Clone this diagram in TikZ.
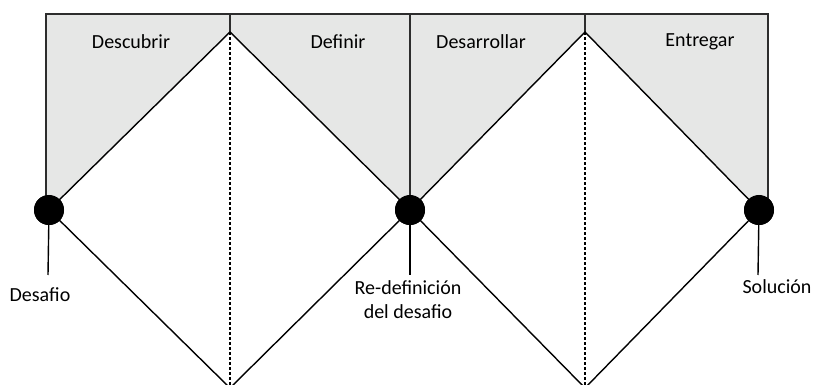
\documentclass[tikz,border=0pt]{standalone}
\usepackage{fontspec}
\setmainfont{Carlito}
\usepackage{xcolor}
\usepackage{tikz}
\usetikzlibrary{positioning}
\definecolor{phasebg}{RGB}{230,231,230}
\definecolor{framecol}{RGB}{45,45,45}

\begin{document}
\begin{tikzpicture}[x=1pt, y=1pt,
    dot/.style={circle, fill=black, inner sep=0pt, minimum size=30pt},
    phase/.style={font=\fontsize{20}{24}\selectfont},
    label/.style={align=center, font=\fontsize{20}{24}\selectfont},
    frame/.style={draw=framecol, line width=2pt},
    edge/.style={draw=black, line width=1.4pt},
    midline/.style={draw=black, line width=1.4pt, dash pattern=on 3pt off 2pt}
]
\useasboundingbox (0,0) rectangle (814,385);

% corners, peaks and bottoms
\coordinate (tl) at (46,371);
\coordinate (tr) at (768,371);
\coordinate (top1) at (230,371);
\coordinate (top2) at (410,371);
\coordinate (top3) at (585,371);
\coordinate (peak1) at (230,353);
\coordinate (peak2) at (585,353);
\coordinate (low1) at (230,-3);
\coordinate (low2) at (585,-3);
\coordinate (left) at (46,175);
\coordinate (right) at (768,175);

% ends of the label stems
\coordinate (dend) at (48,110);
\coordinate (rend) at (410,110);
\coordinate (send) at (758,110);

% the three milestones
\node[dot] (desafio) at (49,175) {};
\node[dot] (redef) at (410,175) {};
\node[dot] (solucion) at (759,175) {};

% grey phase areas
\fill[phasebg] (tl) -- (top1) -- (peak1) -- (desafio.center) -- (left) -- cycle;
\fill[phasebg] (top1) -- (top3) -- (peak2) -- (redef.center) -- (peak1) -- cycle;
\fill[phasebg] (top3) -- (tr) -- (right) -- (solucion.center) -- (peak2) -- cycle;

\draw[frame] (left) -- (tl) -- (tr) -- (right);
\draw[frame] (top1) -- (peak1);
\draw[frame] (top2) -- (redef.center);
\draw[frame] (top3) -- (peak2);

\draw[midline] (peak1) -- (low1);
\draw[midline] (peak2) -- (low2);

% the two diamonds
\draw[edge] (desafio.center) -- (peak1) -- (redef.center) -- (low1) -- cycle;
\draw[edge] (redef.center) -- (peak2) -- (solucion.center) -- (low2) -- cycle;

\draw[edge] (desafio.center) -- (dend);
\draw[edge] (redef.center) -- (rend);
\draw[edge] (solucion.center) -- (send);

\node[dot] at (desafio) {};
\node[dot] at (redef) {};
\node[dot] at (solucion) {};

\node[phase] (descubrir) at (131,343) {Descubrir};
\node[phase] (definir) at (338,343) {Definir};
\node[phase] (desarrollar) at (481,343) {Desarrollar};
\node[phase] (entregar) at (700,343) {Entregar};

\node[label] (ldesafio) at (40,90) {Desafio};
\node[label] (lredef) at (408,85) {Re-definición\\del desafio};
\node[label] (lsolucion) at (777,98) {Solución};

\end{tikzpicture}
\end{document}
